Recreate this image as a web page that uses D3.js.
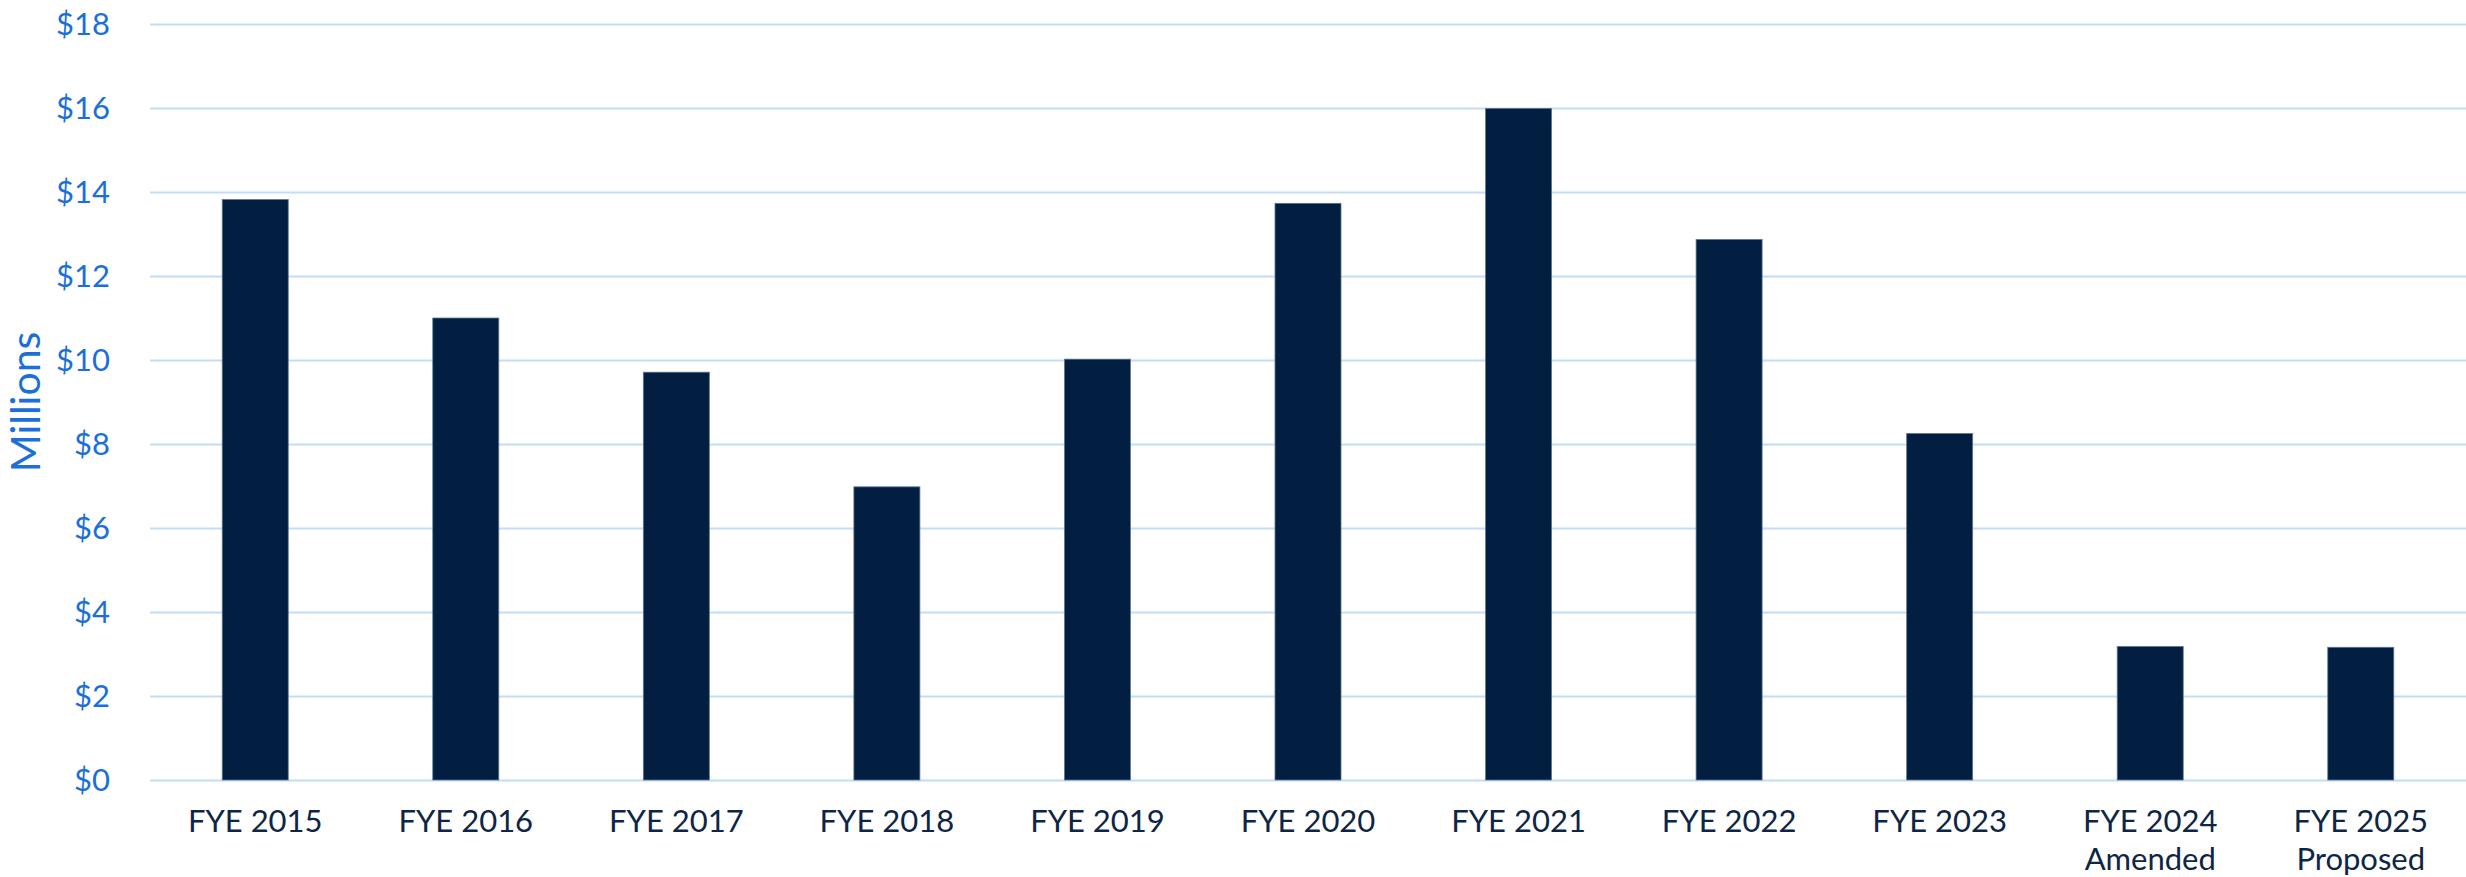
<!DOCTYPE html>
<html>
<head>
<meta charset="utf-8">
<script src="https://cdn.jsdelivr.net/npm/d3@7"></script>
<style>
  html, body { margin: 0; padding: 0; background: #ffffff; }
  svg { display: block; }
  text { font-family: Lato, "Noto Sans", sans-serif; }
</style>
</head>
<body>
<svg id="chart" width="2466" height="877"></svg>
<script>
const categories = ["FYE 2015", "FYE 2016", "FYE 2017", "FYE 2018", "FYE 2019", "FYE 2020",
                    "FYE 2021", "FYE 2022", "FYE 2023", "FYE 2024\nAmended", "FYE 2025\nProposed"];
const values = [13.82, 11.0, 9.71, 6.98, 10.02, 13.73, 15.99, 12.87, 8.25, 3.18, 3.16];
const yTicks = [0, 2, 4, 6, 8, 10, 12, 14, 16, 18];
const yAxisTitle = "Millions";

const W = 2466, H = 877;
const margin = { left: 150, right: 0, top: 24, bottom: 97 };

const svg = d3.select("#chart");

const x = d3.scaleBand()
  .domain(categories)
  .range([margin.left, W - margin.right])
  .paddingInner(0.6865)
  .paddingOuter(0.343);

const y = d3.scaleLinear()
  .domain([0, 18])
  .range([H - margin.bottom, margin.top]);

// gridlines
const grid = d3.axisLeft(y)
  .tickValues(yTicks)
  .tickSize(-(W - margin.left - margin.right))
  .tickFormat("");
svg.append("g")
  .attr("transform", `translate(${margin.left},0)`)
  .call(grid)
  .call(g => g.select(".domain").remove())
  .call(g => g.selectAll("line").attr("stroke", "#c2dcfa").attr("stroke-width", 2));

// bars
svg.append("g")
  .selectAll("rect")
  .data(values)
  .join("rect")
  .attr("x", (d, i) => x(categories[i]))
  .attr("y", d => y(d))
  .attr("width", x.bandwidth())
  .attr("height", d => y(0) - y(d))
  .attr("fill", "#021f42")
  .attr("stroke", "#5f7591")
  .attr("stroke-width", 0.8);

// y axis labels
const yAxis = d3.axisLeft(y)
  .tickValues(yTicks)
  .tickSize(0)
  .tickPadding(0)
  .tickFormat(d => "$" + d);
svg.append("g")
  .attr("transform", `translate(110,0)`)
  .call(yAxis)
  .call(g => g.select(".domain").remove())
  .call(g => g.selectAll("text")
    .attr("fill", "#1a6fd9")
    .attr("font-size", 31)
    .attr("dy", "0.35em")
    .style("font-family", "Lato, 'Noto Sans', sans-serif"));

// x axis labels
const xAxis = d3.axisBottom(x).tickSize(0).tickPadding(0).tickFormat("");
const xg = svg.append("g")
  .attr("transform", `translate(0,${y(0)})`)
  .call(xAxis)
  .call(g => g.select(".domain").remove());
xg.selectAll(".tick").each(function(d) {
  const lines = d.split("\n");
  const t = d3.select(this).append("text")
    .attr("fill", "#0e2545")
    .attr("font-size", 31)
    .attr("text-anchor", "middle")
    .style("font-family", "Lato, 'Noto Sans', sans-serif");
  lines.forEach((ln, i) => {
    t.append("tspan").attr("x", 0).attr("y", 52 + i * 38).text(ln);
  });
});

// y axis title
svg.append("text")
  .attr("transform", `translate(40,${(y(0) + y(18)) / 2}) rotate(-90)`)
  .attr("text-anchor", "middle")
  .attr("fill", "#1a6fd9")
  .attr("font-size", 41)
  .text(yAxisTitle);
</script>
</body>
</html>
